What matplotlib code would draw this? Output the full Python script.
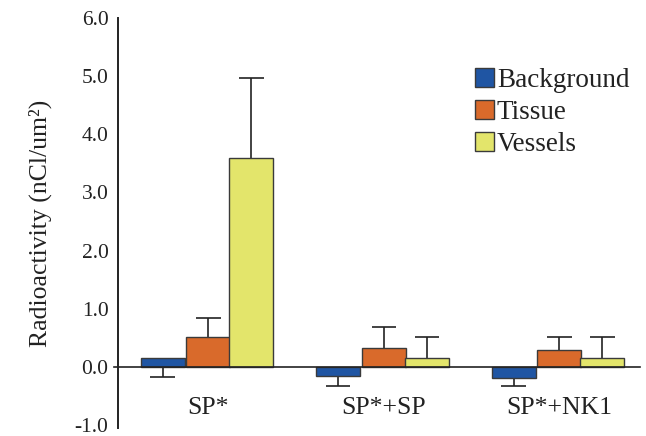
import matplotlib
matplotlib.use('Agg')
import matplotlib.pyplot as plt
import numpy as np

# values
groups = ['SP*', 'SP*+SP', 'SP*+NK1']
series = ['Background', 'Tissue', 'Vessels']
background = [0.16, -0.15, -0.19]
background_err = [0.33, 0.18, 0.14]
tissue = [0.51, 0.33, 0.30]
tissue_err = [0.33, 0.35, 0.21]
vessels = [3.60, 0.16, 0.16]
vessels_err = [1.37, 0.35, 0.35]
yticks = [-1.0, 0.0, 1.0, 2.0, 3.0, 4.0, 5.0, 6.0]

colors = ['#1f55a3', '#d96a2b', '#e3e56b']

plt.rcParams['font.family'] = ['Liberation Serif', 'DejaVu Serif']

fig = plt.figure(figsize=(6.46, 4.36), dpi=100)
ax = fig.add_axes([0.183, 0.018, 0.808, 0.941])

x = np.arange(len(groups))
w = 0.25
offsets = [-0.26, 0.0, 0.245]
vals = [background, tissue, vessels]
errs = [background_err, tissue_err, vessels_err]
cap = 0.07

for k in range(3):
	v = np.array(vals[k])
	e = np.array(errs[k])
	# background errors point down, the others point away from zero
	if k == 0:
		end = v - e
	else:
		end = np.where(v < 0, v - e, v + e)
	xs = x + offsets[k]
	ax.bar(xs, v, w, color=colors[k], edgecolor='#3a3a3a', linewidth=1.0,
		label=series[k], zorder=3)
	ax.vlines(xs, v, end, color='#222222', linewidth=1.2, zorder=2)
	ax.hlines(end, xs - cap, xs + cap, color='#222222', linewidth=1.2, zorder=2)

ax.axhline(0, xmin=-0.008, xmax=1.0, color='#222222', linewidth=1.2, zorder=4, clip_on=False)

ax.set_xlim(-0.513, 2.46)
ax.set_ylim(-1.05, 6.0)
ax.set_yticks(yticks)
ax.set_yticklabels(['%.1f' % t for t in yticks], fontsize=15.5)
ax.set_xticks([])
ax.tick_params(axis='y', length=0, pad=7, colors='#222222')

for s in ['top', 'right', 'bottom']:
	ax.spines[s].set_visible(False)
ax.spines['left'].set_linewidth(1.4)
ax.spines['left'].set_color('#222222')

for i, g in enumerate(groups):
	ax.text(i, -0.7, g, ha='center', va='center', fontsize=18.5, color='#222222')

ax.set_ylabel('Radioactivity (nCl/um\u00b2)', fontsize=18.5, labelpad=16, color='#222222')

ax.legend(loc='upper right', bbox_to_anchor=(1.0, 0.905), frameon=False, fontsize=19.5,
	handlelength=0.7, handleheight=0.7, handletextpad=0.1, labelspacing=0.27,
	borderaxespad=0.0, labelcolor='#222222')

fig.savefig('out.png', dpi=100)
